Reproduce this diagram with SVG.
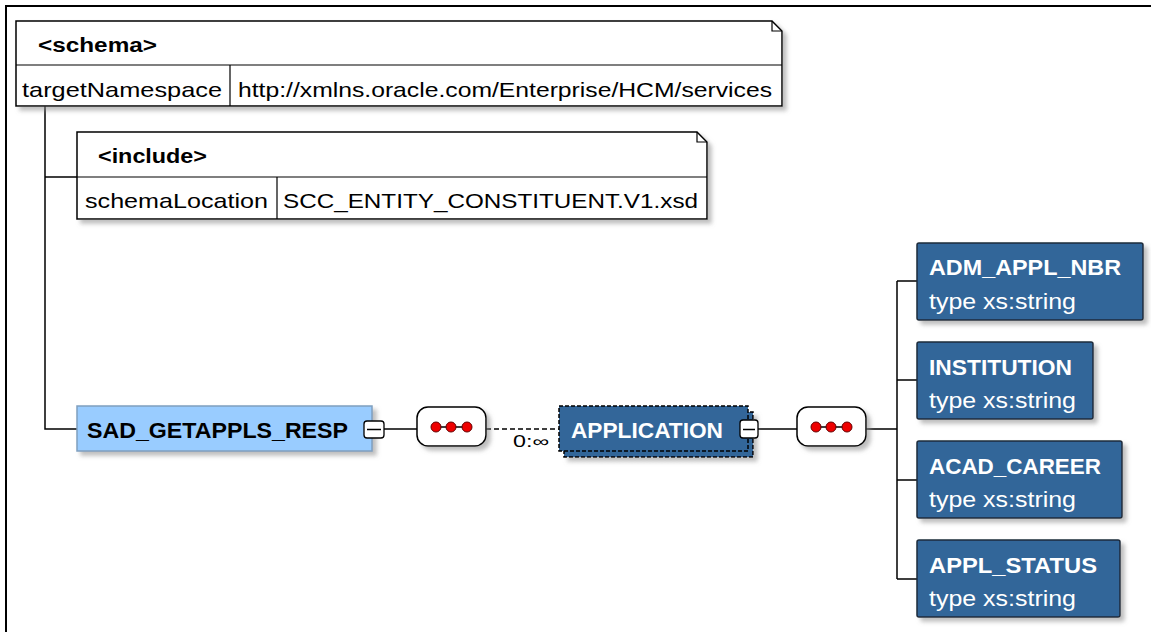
<svg xmlns="http://www.w3.org/2000/svg" width="1151" height="632" viewBox="0 0 1151 632">
<defs>
<filter id="sh" x="-10%" y="-10%" width="130%" height="150%">
<feDropShadow dx="4" dy="4" stdDeviation="2" flood-color="#888" flood-opacity="0.55"/>
</filter>
<style>
text{font-family:"Liberation Sans",Arial,sans-serif;}
.b{font-weight:bold;}
.box{fill:#fff;stroke:#000;stroke-width:1.5;}
.div{stroke:#000;stroke-width:1.2;fill:none;}
.con{stroke:#000;stroke-width:1.5;fill:none;}
.el{fill:#336699;stroke:#1b2b3b;stroke-width:1.5;}
.wt{fill:#fff;}
.dot{fill:#e00;stroke:#600;stroke-width:1;}
</style>
</defs>
<rect width="1151" height="632" fill="#fff"/>
<path d="M5,6 H1151 M6,6 V632" stroke="#000" stroke-width="2" fill="none"/>

<g id="connectors">
<path class="con" d="M45,106 V429 H77 M45,177 H77"/>
<path class="con" d="M384,429 H417"/>
<path d="M486,429 H559" stroke="#000" stroke-width="1.5" stroke-dasharray="5,3" fill="none"/>
<text x="513" y="447" font-size="16" fill="#000" textLength="36" lengthAdjust="spacingAndGlyphs">0:∞</text>
<path class="con" d="M758,429 H797"/>
<path class="con" d="M866,429 H897 M897,281 V579 M897,281 H917 M897,380 H917 M897,480 H917 M897,579 H917"/>
</g>

<g id="schema">
<path class="box" filter="url(#sh)" d="M16,21 H772 L782,31 V106 H16 Z"/>
<path class="div" d="M772,21 V31 H782 M16,65 H782 M230,65 V106"/>
<text x="38" y="52" font-size="20" class="b" textLength="119" lengthAdjust="spacingAndGlyphs">&lt;schema&gt;</text>
<text x="22" y="97" font-size="21" textLength="200" lengthAdjust="spacingAndGlyphs">targetNamespace</text>
<text x="238" y="97" font-size="21" textLength="534" lengthAdjust="spacingAndGlyphs">http://xmlns.oracle.com/Enterprise/HCM/services</text>
</g>

<g id="include">
<path class="box" filter="url(#sh)" d="M77,132 H697 L707,142 V219 H77 Z"/>
<path class="div" d="M697,132 V142 H707 M77,177 H707 M277,177 V219"/>
<text x="98" y="163" font-size="20" class="b" textLength="109" lengthAdjust="spacingAndGlyphs">&lt;include&gt;</text>
<text x="85" y="208" font-size="21" textLength="183" lengthAdjust="spacingAndGlyphs">schemaLocation</text>
<text x="283" y="208" font-size="21" textLength="415" lengthAdjust="spacingAndGlyphs">SCC_ENTITY_CONSTITUENT.V1.xsd</text>
</g>

<g id="sad_getappls_resp">
<rect x="77" y="406" width="295" height="45" fill="#99ccff" stroke="#7f9fbf" stroke-width="1.5" filter="url(#sh)"/>
<text x="87" y="438" font-size="22" class="b" textLength="261" lengthAdjust="spacingAndGlyphs">SAD_GETAPPLS_RESP</text>
<rect x="364" y="421" width="20" height="17" rx="3" fill="#fff" stroke="#000" stroke-width="1.3"/>
<path d="M367,429.5 H381" stroke="#000" stroke-width="1.5"/>
</g>

<g id="sequence1">
<rect x="417" y="407" width="69" height="39" rx="11" class="box" filter="url(#sh)"/>
<path d="M436,427 H467" stroke="#000" stroke-width="1.5"/>
<circle class="dot" cx="436" cy="427" r="5"/>
<circle class="dot" cx="451" cy="427" r="5"/>
<circle class="dot" cx="467" cy="427" r="5"/>
</g>

<g id="application">
<rect x="564" y="412" width="189" height="45" fill="#336699" stroke="#000" stroke-width="1.5" stroke-dasharray="4,2" filter="url(#sh)"/>
<rect x="559" y="406" width="189" height="45" fill="#336699" stroke="#000" stroke-width="1.5" stroke-dasharray="4,2"/>
<text x="571" y="438" font-size="22" class="b wt" textLength="152" lengthAdjust="spacingAndGlyphs">APPLICATION</text>
<rect x="740" y="420" width="18" height="18" rx="3" fill="#fff" stroke="#000" stroke-width="1.3"/>
<path d="M743,429.5 H755" stroke="#000" stroke-width="1.5"/>
</g>

<g id="sequence2">
<rect x="797" y="407" width="69" height="39" rx="11" class="box" filter="url(#sh)"/>
<path d="M816,427 H847" stroke="#000" stroke-width="1.5"/>
<circle class="dot" cx="816" cy="427" r="5"/>
<circle class="dot" cx="831" cy="427" r="5"/>
<circle class="dot" cx="847" cy="427" r="5"/>
</g>

<g id="adm_appl_nbr">
<rect x="917" y="243" width="226" height="77" rx="2" class="el" filter="url(#sh)"/>
<text x="929" y="275" font-size="22" class="b wt" textLength="192" lengthAdjust="spacingAndGlyphs">ADM_APPL_NBR</text>
<text x="929" y="309" font-size="22" class="wt" textLength="147" lengthAdjust="spacingAndGlyphs">type xs:string</text>
</g>

<g id="institution">
<rect x="917" y="342" width="176" height="77" rx="2" class="el" filter="url(#sh)"/>
<text x="929" y="375" font-size="22" class="b wt" textLength="143" lengthAdjust="spacingAndGlyphs">INSTITUTION</text>
<text x="929" y="408" font-size="22" class="wt" textLength="147" lengthAdjust="spacingAndGlyphs">type xs:string</text>
</g>

<g id="acad_career">
<rect x="917" y="441" width="205" height="77" rx="2" class="el" filter="url(#sh)"/>
<text x="929" y="474" font-size="22" class="b wt" textLength="172" lengthAdjust="spacingAndGlyphs">ACAD_CAREER</text>
<text x="929" y="507" font-size="22" class="wt" textLength="147" lengthAdjust="spacingAndGlyphs">type xs:string</text>
</g>

<g id="appl_status">
<rect x="917" y="540" width="203" height="77" rx="2" class="el" filter="url(#sh)"/>
<text x="929" y="573" font-size="22" class="b wt" textLength="168" lengthAdjust="spacingAndGlyphs">APPL_STATUS</text>
<text x="929" y="606" font-size="22" class="wt" textLength="147" lengthAdjust="spacingAndGlyphs">type xs:string</text>
</g>
</svg>
